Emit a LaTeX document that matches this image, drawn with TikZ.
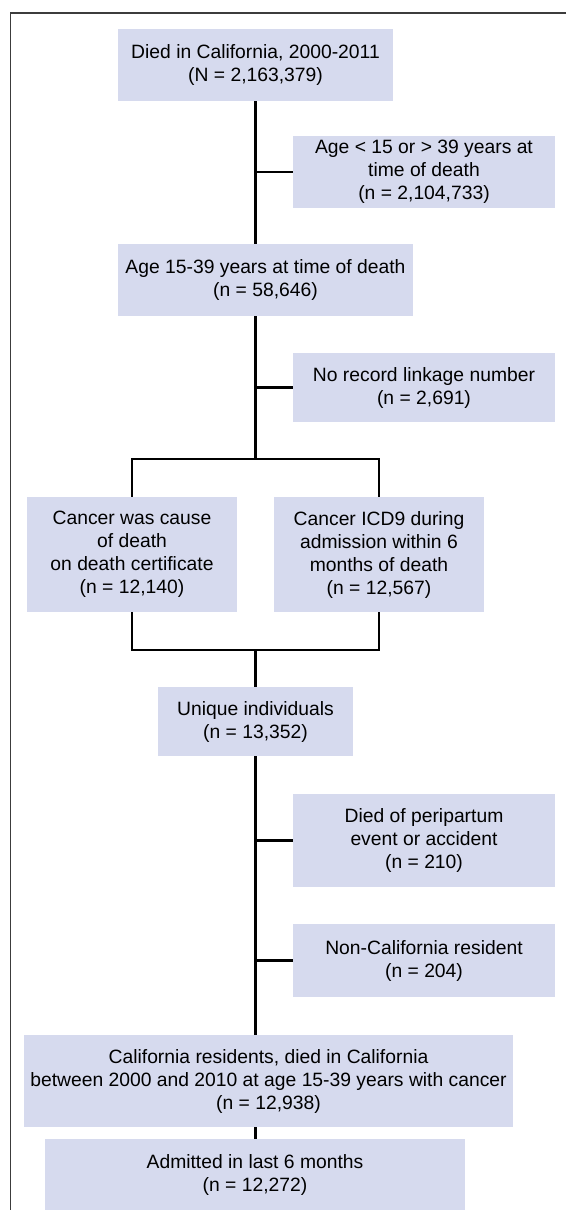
\documentclass[tikz,border=0pt]{standalone}
\usepackage{fontspec}
\setmainfont{Liberation Sans}
\definecolor{boxfill}{RGB}{214,218,238}
\definecolor{framecol}{RGB}{60,60,60}
\begin{document}
\begin{tikzpicture}[x=1pt,y=-1pt,
  flowbox/.style={fill=boxfill,draw=none,align=center,inner sep=0pt,
    font=\fontsize{19.3}{23}\selectfont},
  conn/.style={line width=2.3pt,black}]
\useasboundingbox (0,0) rectangle (566,1210);
\draw[framecol,line width=1.1pt] (566,13) -- (10.5,13) -- (10.5,1210);

\node[flowbox,minimum width=275pt,minimum height=72pt] (b1) at (255.5,65)
  {Died in California, 2000-2011\\(N = 2,163,379)};
\node[flowbox,minimum width=262pt,minimum height=72pt] (b2) at (424,172)
  {Age < 15 or > 39 years at\\time of death\\(n = 2,104,733)};
\node[flowbox,minimum width=295pt,minimum height=72pt] (b3) at (265.5,280)
  {Age 15-39 years at time of death\\(n = 58,646)};
\node[flowbox,minimum width=262pt,minimum height=69pt] (b4) at (424,387.5)
  {No record linkage number\\(n = 2,691)};
\node[flowbox,minimum width=210pt,minimum height=115pt] (b5) at (132,554.5)
  {Cancer was cause\\of death\\on death certificate\\(n = 12,140)};
\node[flowbox,minimum width=210pt,minimum height=115pt] (b6) at (379,554.5)
  {Cancer ICD9 during\\admission within 6\\months of death\\(n = 12,567)};
\node[flowbox,minimum width=195pt,minimum height=69pt] (b7) at (255.5,721.5)
  {Unique individuals\\(n = 13,352)};
\node[flowbox,minimum width=262pt,minimum height=93pt] (b8) at (424,840.5)
  {Died of peripartum\\event or accident\\(n = 210)};
\node[flowbox,minimum width=262pt,minimum height=73pt] (b9) at (424,960.5)
  {Non-California resident\\(n = 204)};
\node[flowbox,minimum width=489pt,minimum height=92pt] (b10) at (268.5,1081)
  {California residents, died in California\\between 2000 and 2010 at age 15-39 years with cancer\\(n = 12,938)};
\node[flowbox,minimum width=420pt,minimum height=71pt] (b11) at (255,1174.5)
  {Admitted in last 6 months\\(n = 12,272)};

\coordinate (split) at (255.5,459);
\coordinate (join) at (255.5,650);

\draw[conn] (b1.south) -- (b1.south |- b3.north);
\draw[conn] (b1.south |- b2.west) -- (b2.west);
\draw[conn] (b1.south |- b3.south) -- (split);
\draw[conn] (b1.south |- b4.west) -- (b4.west);
\draw[conn] (b5.north) -- (b5.north |- split) -- (b6.north |- split) -- (b6.north);
\draw[conn] (b5.south) -- (b5.south |- join) -- (b6.south |- join) -- (b6.south);
\draw[conn] (join) -- (b7.north);
\draw[conn] (b7.south) -- (b7.south |- b10.north);
\draw[conn] (b7.south |- b8.west) -- (b8.west);
\draw[conn] (b7.south |- b9.west) -- (b9.west);
\draw[conn] (b7.south |- b10.south) -- (b7.south |- b11.north);
\end{tikzpicture}
\end{document}
